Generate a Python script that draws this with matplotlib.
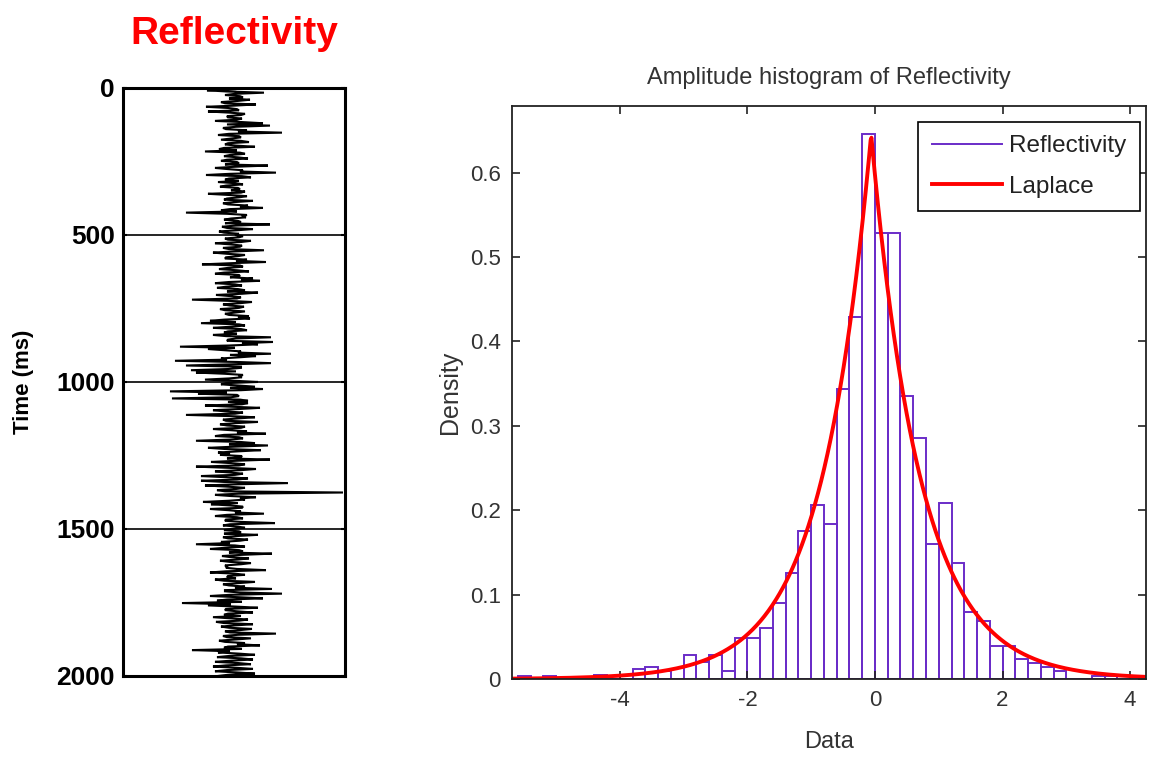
import numpy as np
import matplotlib
matplotlib.use("Agg")
import matplotlib.pyplot as plt
from matplotlib.lines import Line2D

# ---------------- data ----------------
# Reflectivity trace sampled every 4 ms (amplitude, arbitrary units):
# values at 0, 8, 16 ... ms (spikes read off the picture)
trace_step_ms = 4
reflectivity_even = [
    5, -26, 31, -8, 10, 17, -12, 23, -27, 4,
    -25, 12, -6, 9, -18, 30, 37, -10, 14, 49,
    -15, 8, -12, 16, -8, 22, -14, -28, 12, -9,
    15, -12, 6, 35, -18, 10, 43, -27, 18, -8,
    -15, 10, -13, 7, 12, -25, 14, -6, 20, -10,
    15, 30, -12, -47, 14, 13, -9, 8, 37, -11,
    20, -14, 6, 10, -8, 18, -18, 9, -10, 31,
    -20, 12, -7, 14, 33, -31, 10, -14, 16, -18,
    7, 20, 27, -18, 9, -16, 12, 25, -17, 8,
    -41, 19, -10, 11, -13, 12, -8, 16, 17, -23,
    -32, 12, -20, 14, -9, -20, 38, -5, 40, 25,
    -53, -25, 8, 38, 23, -12, -58, 38, -47, 8,
    -42, -37, 10, 9, -28, 25, -12, 22, 30, -63,
    -35, 6, -61, 15, 15, -28, 27, -20, 10, -47,
    22, -10, 25, -13, 12, -20, 14, 33, -18, 10,
    -37, 22, 35, -25, 28, -15, -13, 8, 37, -22,
    12, -37, 23, -18, 10, -32, 15, -32, 55, -28,
    12, -16, 110, -18, 23, 12, -30, -22, 10, -23,
    8, 31, -18, 10, -8, 42, -10, 12, -9, 8,
    25, -10, 15, -12, -37, 12, -23, 10, 39, -11,
    16, -13, 18, -8, -7, 33, -23, 12, -6, -18,
    22, -10, 12, 39, -8, 49, -23, 30, -16, -51,
    -25, 25, -8, 20, -9, -20, 15, -17, 20, -12,
    19, -8, 43, -10, 18, -14, 12, 27, -9, -41,
    -15, 22, -16, 20, -18, 18, -20, 20, -18, 22,
    -15,
]
# values at 4, 12, 20 ... ms (small core samples)
reflectivity_odd = [
    3, -6, 2, 7, -4, 5, -8, 2, -5, 6,
    -3, 8, -5, 4, 9, -6, 3, -7, 5, -4,
    6, -2, 8, -5, 3, -9, 4, 7, -3, 5,
    -6, 4, -8, 2, -5, 7, -3, 9, -4, 6,
    3, -7, 5, -2, 8, -4, 6, -9, 2, -5,
    7, -3, 4, -6, 9, -2, 5, -8, 3, -6,
    4, -9, 2, 6, -5, 8, -3, 7, -4, 2,
    -6, 5, -8, 3, -2, 7, -5, 4, -9, 6,
    -3, 8, -4, 2, -7, 5, -6, 9, -2, 4,
    -5, 7, -3, 6, -8, 2, -4, 5, -9, 3,
    6, -2, 8, -5, 4, -7, 3, -6, 9, -4,
    2, -8, 5, -3, 7, -6, 4, -2, 8, -5,
    3, -9, 6, -4, 2, -7, 5, -3, 8, -6,
    4, -2, 7, -5, 9, -3, 6, -8, 2, -4,
    5, -7, 3, -6, 8, -2, 4, -9, 6, -3,
    7, -4, 2, -8, 5, -3, 9, -6, 4, -2,
    6, -5, 8, -3, 2, -7, 4, -9, 5, -6,
    3, -8, 6, -2, 7, -4, 5, -3, 9, -5,
    2, -6, 4, -7, 8, -3, 5, -2, 6, -9,
    4, -5, 7, -3, 2, -8, 6, -4, 9, -2,
    5, -3, 8, -6, 4, -7, 2, -5, 3, -9,
    6, -4, 2, -8, 7, -3, 5, -6, 9, -2,
    3, -7, 4, -5, 8, -2, 6, -9, 2, -4,
    7, -3, 5, -6, 2, -8, 4, -5, 9, -3,
    6, -4, 8, -2, 5, -7, 3, -6, 4, -5,
]
time_ticks = [0, 500, 1000, 1500, 2000]
time_tick_labels = ["0", "500", "1000", "1500", "2000"]

# Histogram: left bin edges (width 0.2) and density heights
bin_width = 0.2
bin_left = [-5.8, -5.6, -5.4, -5.2, -5.0, -4.8, -4.6, -4.4, -4.2, -4.0,
            -3.8, -3.6, -3.4, -3.2, -3.0, -2.8, -2.6, -2.4, -2.2, -2.0,
            -1.8, -1.6, -1.4, -1.2, -1.0, -0.8, -0.6, -0.4, -0.2, 0.0,
            0.2, 0.4, 0.6, 0.8, 1.0, 1.2, 1.4, 1.6, 1.8, 2.0,
            2.2, 2.4, 2.6, 2.8, 3.0, 3.2, 3.4, 3.6, 3.8, 4.0, 4.2]
density = [0.0, 0.004, 0.0, 0.004, 0.0, 0.0, 0.0, 0.005, 0.0, 0.005,
           0.012, 0.014, 0.009, 0.0, 0.028, 0.020, 0.028, 0.009, 0.049, 0.049,
           0.060, 0.090, 0.126, 0.175, 0.206, 0.184, 0.344, 0.429, 0.646, 0.529,
           0.529, 0.335, 0.285, 0.160, 0.208, 0.137, 0.079, 0.069, 0.039, 0.039,
           0.024, 0.019, 0.014, 0.010, 0.0, 0.0, 0.004, 0.004, 0.004, 0.004, 0.0]

# Laplace fit parameters (location, scale)
laplace_mu = -0.06
laplace_b = 0.775

x_ticks = [-4, -2, 0, 2, 4]
x_tick_labels = ["-4", "-2", "0", "2", "4"]
y_ticks = [0, 0.1, 0.2, 0.3, 0.4, 0.5, 0.6]
y_tick_labels = ["0", "0.1", "0.2", "0.3", "0.4", "0.5", "0.6"]

# ---------------- figure ----------------
fig = plt.figure(figsize=(11.6, 7.59), dpi=100)
fig.patch.set_facecolor("white")

BOLD = ["Liberation Sans", "DejaVu Sans"]
THIN = ["Liberation Sans", "DejaVu Sans"]

# ----- left: reflectivity trace -----
ax1 = fig.add_axes([0.106, 0.1094, 0.1914, 0.7747])
n = len(reflectivity_even) + len(reflectivity_odd)
amp = np.empty(n)
amp[0::2] = reflectivity_even
amp[1::2] = reflectivity_odd
amp = amp / 100.0
t = np.arange(n) * trace_step_ms
ax1.plot(amp, t, color="black", lw=1.5, solid_joinstyle="miter")
for yv in time_ticks[1:-1]:
    ax1.axhline(yv, color="black", lw=1.2)
ax1.set_ylim(2000, 0)
ax1.set_xlim(-1.10, 1.12)
ax1.set_xticks([])
ax1.set_yticks(time_ticks)
ax1.set_yticklabels(time_tick_labels, fontsize=19, fontweight="bold", family=BOLD)
ax1.tick_params(axis="y", direction="in", length=3, width=1.5, right=True, pad=6)
for s in ax1.spines.values():
    s.set_linewidth(2.2)
    s.set_color("black")
ax1.set_ylabel("Time (ms)", fontsize=16, fontweight="bold", family=BOLD, labelpad=16)
ax1.set_title("Reflectivity", fontsize=28, fontweight="bold", color="#ff0000",
              family=BOLD, pad=32)

# ----- right: histogram -----
ax2 = fig.add_axes([0.4414, 0.1054, 0.5466, 0.755])
purple = "#6a2cc8"
ax2.bar(bin_left, density, width=bin_width, align="edge", fill=False,
        edgecolor=purple, linewidth=1.4)
xs = np.linspace(-5.7, 4.3, 800)
pdf = np.exp(-np.abs(xs - laplace_mu) / laplace_b) / (2 * laplace_b)
ax2.plot(xs, pdf, color="#ff0000", lw=2.8)
ax2.set_xlim(-5.69, 4.25)
ax2.set_ylim(0, 0.679)
ax2.set_xticks(x_ticks)
ax2.set_xticklabels(x_tick_labels, fontsize=16, family=THIN, color="#333333")
ax2.set_yticks(y_ticks)
ax2.set_yticklabels(y_tick_labels, fontsize=16, family=THIN, color="#333333")
ax2.tick_params(direction="in", length=6, width=1.2, top=True, right=True, pad=8,
                color="#222222")
for s in ax2.spines.values():
    s.set_linewidth(1.3)
    s.set_color("#222222")
ax2.set_title("Amplitude histogram of Reflectivity", fontsize=17, family=THIN,
              color="#333333", pad=16)
ax2.set_xlabel("Data", fontsize=17, family=THIN, color="#333333", labelpad=14)
ax2.set_ylabel("Density", fontsize=18, family=THIN, color="#333333", labelpad=6)

handles = [Line2D([], [], color=purple, lw=1.4),
           Line2D([], [], color="#ff0000", lw=2.8)]
leg = ax2.legend(handles, ["Reflectivity", "Laplace"], loc="upper right",
                 bbox_to_anchor=(0.9905, 0.972), borderaxespad=0,
                 fancybox=False, framealpha=1, edgecolor="black",
                 prop={"family": THIN, "size": 17.5}, handlelength=2.9,
                 handletextpad=0.3, labelspacing=0.75, borderpad=0.55)
leg.get_frame().set_linewidth(1.2)
for txt in leg.get_texts():
    txt.set_color("#222222")

fig.savefig("out.png", dpi=100)
